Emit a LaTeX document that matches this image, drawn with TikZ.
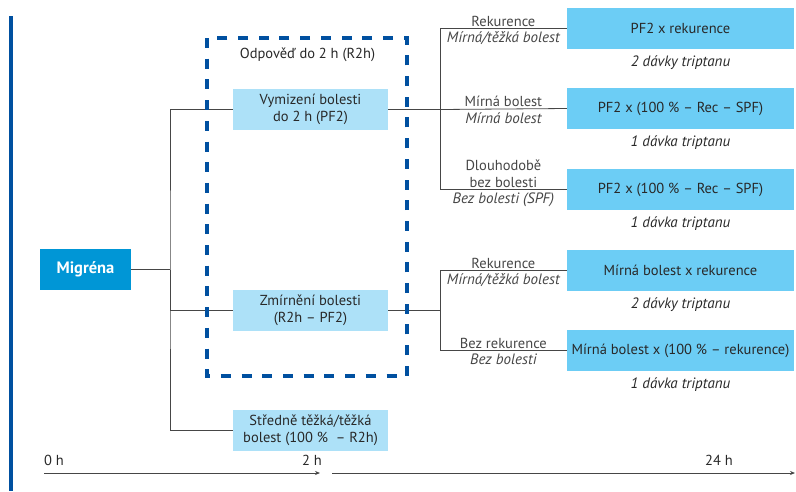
\documentclass[tikz,border=0pt]{standalone}
\usepackage{fontspec}
\setmainfont{PT Sans}
\usetikzlibrary{arrows.meta,positioning}
\definecolor{D}{RGB}{0,80,160}
\definecolor{M}{RGB}{0,150,214}
\definecolor{L}{RGB}{173,225,248}
\definecolor{R}{RGB}{108,205,245}
\definecolor{K}{RGB}{70,70,70}
\definecolor{T}{RGB}{40,40,40}

\begin{document}
\begin{tikzpicture}[x=1pt,y=-1pt,font=\fontsize{14.5}{16.5}\selectfont,text=T,
    phase/.style={fill=L,minimum width=155pt,minimum height=41pt,align=center,inner sep=0pt},
    outcome/.style={fill=R,minimum width=227pt,minimum height=41pt,inner sep=0pt},
    dose/.style={inner sep=0pt,font=\fontsize{15}{17}\selectfont\itshape},
    link/.style={K,line width=0.8pt},
    lab/.style={align=center,inner sep=1.5pt},
    labit/.style={align=center,inner sep=3pt,font=\fontsize{15}{17}\selectfont\itshape}]
    \path[use as bounding box] (0,0) rectangle (796,491);
    \fill[D] (9,16) rectangle (13,491);
    % start and the three first outcomes
    \node[fill=M,text=white,font=\fontsize{16.5}{18}\selectfont\bfseries,minimum width=91pt,minimum height=41pt] (mig) at (85.5,269.5) {Migréna};
    \node[phase] (vym) at (310.5,109.5) {Vymizení bolesti\\do 2 h (PF2)};
    \node[phase] (zmir) at (310.5,310.5) {Zmírnění bolesti\\(R2h -- PF2)};
    \node[phase] (stred) at (310.5,430.5) {Středně těžká/těžká\\bolest (100~\%~ -- R2h)};
    % results after 24 h
    \foreach \n/\y/\t/\d in {1/28.5/{PF2 x rekurence}/{2 dávky triptanu},
        2/108.5/{PF2 x (100~\% -- Rec -- SPF)}/{1 dávka triptanu},
        3/189.5/{PF2 x (100~\% -- Rec -- SPF)}/{1 dávka triptanu},
        4/270.5/{Mírná bolest x rekurence}/{2 dávky triptanu},
        5/350.5/{Mírná bolest x (100~\% -- rekurence)}/{1 dávka triptanu}} {
        \node[outcome] (r\n) at (680.5,\y) {\t};
        \node[dose,below=6pt of r\n] (d\n) {\d};
    }
    \coordinate (s0) at (170,269.5);
    \coordinate (s1) at (440,109.5);
    \coordinate (s2) at (440,310.5);
    \draw[link] (mig.east) -- (s0);
    \draw[link] (vym.west) -| (s0) |- (stred.west);
    \draw[link] (s0) |- (zmir.west);
    \draw[link] (vym.east) -- (s1);
    \draw[link] (s1) |- node[lab,pos=0.75,above] (a1) {Rekurence} node[labit,pos=0.75,below] (b1) {Mírná/těžká bolest} (r1.west);
    \draw[link] (s1) -- node[lab,above] (a2) {Mírná bolest} node[labit,below] (b2) {Mírná bolest} (r2.west);
    \draw[link] (s1) |- node[lab,pos=0.75,above] (a3) {Dlouhodobě\\bez bolesti} node[labit,pos=0.75,below] (b3) {Bez bolesti (SPF)} (r3.west);
    \draw[link] (zmir.east) -- (s2);
    \draw[link] (s2) |- node[lab,pos=0.75,above] (a4) {Rekurence} node[labit,pos=0.75,below] (b4) {Mírná/těžká bolest} (r4.west);
    \draw[link] (s2) |- node[lab,pos=0.75,above] (a5) {Bez rekurence} node[labit,pos=0.75,below] (b5) {Bez bolesti} (r5.west);
    % response window
    \draw[D,line width=4pt,dash pattern=on 10pt off 10.7pt] (207,38) rectangle (407,376);
    \node (resp) at (307.5,55) {Odpověď do 2 h (R2h)};
    % time axis
    \node[anchor=west,inner sep=0pt] (t0) at (44,460) {0 h};
    \node[inner sep=0pt] (t2) at (312,460) {2 h};
    \node[inner sep=0pt] (t24) at (719,460) {24 h};
    \coordinate (a0) at (44,473);
    \coordinate (a1) at (320,473);
    \coordinate (a2) at (332,473);
    \coordinate (a3) at (795,473);
    \draw[link,-{Stealth[length=5pt,width=4pt]}] (a0) -- (a1);
    \draw[link,-{Stealth[length=5pt,width=4pt]}] (a2) -- (a3);
\end{tikzpicture}
\end{document}
